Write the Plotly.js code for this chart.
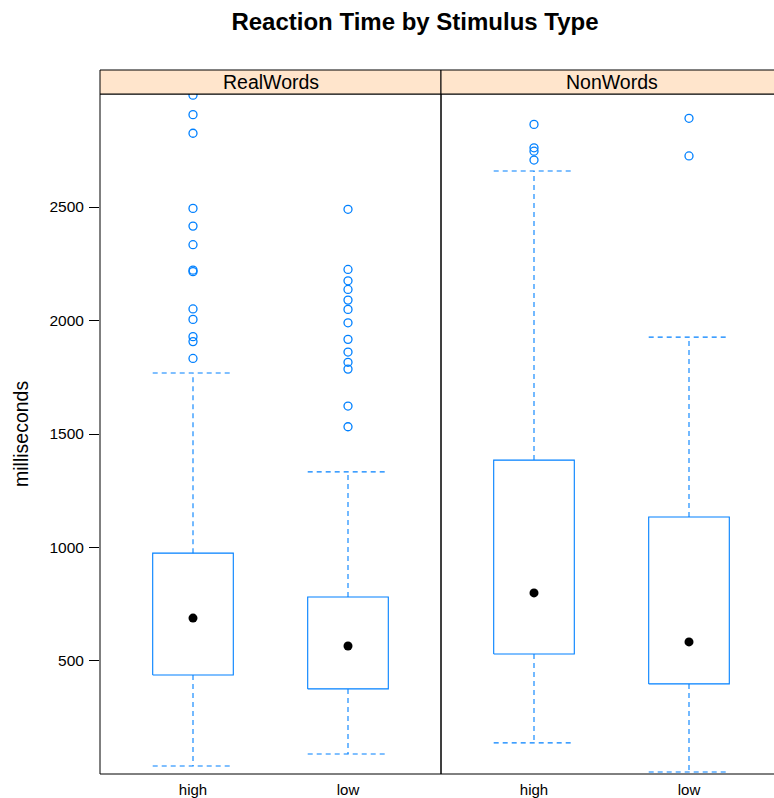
<!DOCTYPE html>
<html>
<head>
<meta charset="utf-8">
<script src="https://cdn.plot.ly/plotly-3.0.1.min.js"></script>
<style>html,body{margin:0;padding:0;background:#fff;}#chart{width:774px;height:798px;}</style>
</head>
<body>
<div id="chart"></div>
<script>
// ---- data ----
const panels = ['RealWords', 'NonWords'];
const categories = ['high', 'low'];
// order: RealWords-high, RealWords-low, NonWords-high, NonWords-low
const lowerWhisker = [37, 90, 139, 11];
const q1 = [438, 377, 531, 399];
const medians = [689, 566, 800, 584];
const q3 = [975, 782, 1385, 1134];
const upperWhisker = [1769, 1333, 2659, 1927];
const outRealHigh = [2993, 2907, 2825, 2494, 2416, 2334, 2222, 2215, 2051, 2005, 1929, 1907, 1833];
const outRealLow = [2490, 2225, 2175, 2137, 2090, 2049, 1990, 1917, 1861, 1816, 1786, 1623, 1532];
const outNonHigh = [2864, 2761, 2746, 2707];
const outNonLow = [2891, 2725];
const outliers = [outRealHigh, outRealLow, outNonHigh, outNonLow];
const yTicks = [500, 1000, 1500, 2000, 2500];

// ---- styling ----
const BLUE = '#0080ff';
const W = 0.26; // half box width in category units
const W_PX = 774, H_PX = 798;
const plotTop = 94, plotBot = 774, stripTop = 70;
const leftX0 = 100, divX = 441, rightX1 = 782;
const py = v => (H_PX - v) / H_PX;
const px = v => v / W_PX;

const traces = [];
panels.forEach((p, pi) => {
  categories.forEach((c, ci) => {
    const g = pi * 2 + ci;
    const x = ci + 1;
    const xa = pi === 0 ? 'x' : 'x2';
    // box rectangle
    traces.push({type: 'scatter', mode: 'lines', xaxis: xa, yaxis: 'y',
      x: [x - W, x + W, x + W, x - W, x - W],
      y: [q1[g], q1[g], q3[g], q3[g], q1[g]],
      line: {color: BLUE, width: 1.1}, hoverinfo: 'skip', showlegend: false});
    // whiskers + caps (dashed)
    traces.push({type: 'scatter', mode: 'lines', xaxis: xa, yaxis: 'y',
      x: [x, x, null, x - W, x + W, null, x, x, null, x - W, x + W],
      y: [q3[g], upperWhisker[g], null, upperWhisker[g], upperWhisker[g], null,
          q1[g], lowerWhisker[g], null, lowerWhisker[g], lowerWhisker[g]],
      line: {color: BLUE, width: 1.1, dash: '5px,4px'}, connectgaps: false,
      hoverinfo: 'skip', showlegend: false});
    // median dot
    traces.push({type: 'scatter', mode: 'markers', xaxis: xa, yaxis: 'y',
      x: [x], y: [medians[g]],
      marker: {symbol: 'circle', size: 9, color: '#000'}, showlegend: false});
    // outliers
    traces.push({type: 'scatter', mode: 'markers', xaxis: xa, yaxis: 'y',
      x: outliers[g].map(() => x), y: outliers[g],
      marker: {symbol: 'circle-open', size: 8, color: BLUE, line: {width: 1.3, color: BLUE}},
      showlegend: false});
  });
});

const FONT = 'Liberation Sans, Arial, Helvetica, sans-serif';
const yDom = [py(plotBot), py(plotTop)];
const xAxisCommon = {
  tickvals: [1, 2], ticktext: categories, showgrid: false, zeroline: false,
  showline: false, ticks: 'outside', ticklen: 2, tickcolor: 'rgba(0,0,0,0)',
  tickfont: {family: FONT, size: 15, color: '#000'}, automargin: false, fixedrange: true
};

const shapes = [
  {type: 'rect', xref: 'paper', yref: 'paper', x0: px(leftX0), x1: px(divX), y0: py(plotBot), y1: py(plotTop), line: {color: '#000', width: 1}},
  {type: 'rect', xref: 'paper', yref: 'paper', x0: px(divX), x1: px(rightX1), y0: py(plotBot), y1: py(plotTop), line: {color: '#000', width: 1}},
  {type: 'rect', xref: 'paper', yref: 'paper', x0: px(leftX0), x1: px(divX), y0: py(plotTop), y1: py(stripTop), fillcolor: '#ffe5cc', line: {color: '#000', width: 1}},
  {type: 'rect', xref: 'paper', yref: 'paper', x0: px(divX), x1: px(rightX1), y0: py(plotTop), y1: py(stripTop), fillcolor: '#ffe5cc', line: {color: '#000', width: 1}}
];

const annotations = [
  {xref: 'paper', yref: 'paper', x: px((leftX0 + divX) / 2), y: py((plotTop + stripTop) / 2), text: panels[0], showarrow: false, xanchor: 'center', yanchor: 'middle', font: {family: FONT, size: 19.5, color: '#000'}},
  {xref: 'paper', yref: 'paper', x: px((divX + rightX1) / 2), y: py((plotTop + stripTop) / 2), text: panels[1], showarrow: false, xanchor: 'center', yanchor: 'middle', font: {family: FONT, size: 19.5, color: '#000'}},
  {xref: 'paper', yref: 'paper', x: px(21), y: py(434), text: 'milliseconds', textangle: -90, showarrow: false, xanchor: 'center', yanchor: 'middle', font: {family: FONT, size: 19.5, color: '#000'}}
];

const layout = {
  width: W_PX, height: H_PX,
  margin: {l: 0, r: 0, t: 0, b: 0, pad: 0},
  paper_bgcolor: '#fff', plot_bgcolor: 'rgba(0,0,0,0)',
  title: {text: '<b>Reaction Time by Stimulus Type</b>', x: 415 / W_PX, xanchor: 'center', xref: 'container',
          y: 1 - 22 / H_PX, yanchor: 'middle', yref: 'container', font: {family: FONT, size: 24, color: '#000'}},
  xaxis: Object.assign({domain: [px(leftX0), px(divX)], range: [0.4, 2.6], anchor: 'y'}, xAxisCommon),
  xaxis2: Object.assign({domain: [px(divX), 1], range: [0.4, 2.6 - (rightX1 - W_PX) / ((divX - leftX0) / 2.2)], anchor: 'y'}, xAxisCommon),
  yaxis: {domain: yDom, range: [2, 2998], tickvals: yTicks, ticks: 'outside', ticklen: 10, tickcolor: '#000',
          ticklabelstandoff: 2,
          showgrid: false, zeroline: false, showline: false, tickfont: {family: FONT, size: 15.5, color: '#000'},
          automargin: false, anchor: 'x', fixedrange: true},
  shapes: shapes, annotations: annotations, showlegend: false
};

Plotly.newPlot('chart', traces, layout, {displayModeBar: false, staticPlot: true});
</script>
</body>
</html>
